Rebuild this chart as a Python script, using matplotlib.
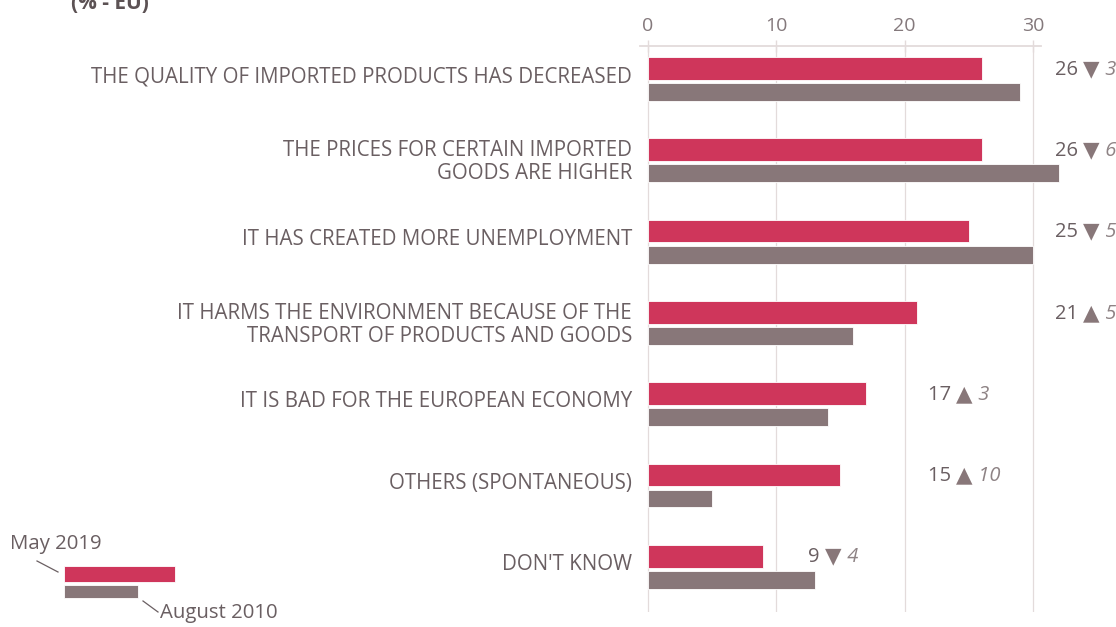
import matplotlib.pyplot as plt
from matplotlib.patches import Rectangle
from matplotlib.lines import Line2D

# Reasons given, EU average (%), May 2019 vs August 2010
categorias = [
    "THE QUALITY OF IMPORTED PRODUCTS HAS DECREASED",
    "THE PRICES FOR CERTAIN IMPORTED\nGOODS ARE HIGHER",
    "IT HAS CREATED MORE UNEMPLOYMENT",
    "IT HARMS THE ENVIRONMENT BECAUSE OF THE\nTRANSPORT OF PRODUCTS AND GOODS",
    "IT IS BAD FOR THE EUROPEAN ECONOMY",
    "OTHERS (SPONTANEOUS)",
    "DON'T KNOW",
]
maio_2019 = [26, 26, 25, 21, 17, 15, 9]
agosto_2010 = [29, 32, 30, 16, 14, 5, 13]
variacao = [-3, -6, -5, 5, 3, 10, -4]
# x position (data units) of each value label
pos_rotulo = [31.7, 31.7, 31.7, 31.7, 21.8, 21.8, 12.5]

VERMELHO = "#CF365B"
CINZA = "#887779"
TEXTO = "#6A5F62"
GRADE = "#E3DBDB"

plt.rcParams["font.family"] = ["Open Sans", "DejaVu Sans"]

W, H = 1116, 627
fig = plt.figure(figsize=(W / 100, H / 100), dpi=100)

escala = 12.83  # px per unit
esq_px, topo_px, base_px = 640, 46, 612
x0 = -(648 - esq_px) / escala
x1 = x0 + (W - esq_px) / escala
passo = 81.3
y_topo = (topo_px - 80.25) / passo
y_base = (base_px - 80.25) / passo

ax = fig.add_axes([esq_px / W, 1 - base_px / H, (W - esq_px) / W, (base_px - topo_px) / H])
ax.set_xlim(x0, x1)
ax.set_ylim(y_base, y_topo)

for t in [0, 10, 20, 30]:
    ax.axvline(t, color=GRADE, lw=0.9, zorder=0)

n = len(categorias)
ys = list(range(n))
ax.barh([y - 0.145 for y in ys], maio_2019, height=0.28, color=VERMELHO,
        edgecolor="white", linewidth=0.6, zorder=2)
ax.barh([y + 0.145 for y in ys], agosto_2010, height=0.22, color=CINZA,
        edgecolor="white", linewidth=0.6, zorder=2)

for i, rotulo in enumerate(categorias):
    dy = 0.01 if "\n" in rotulo else -0.045
    ax.text(-1.25, i + dy, rotulo, ha="right", va="center", fontsize=14.8,
            color=TEXTO, linespacing=1.14)

for i in range(n):
    yv = i - 0.13
    t1 = ax.text(pos_rotulo[i], yv, f"{maio_2019[i]} ", ha="left", va="center",
                 fontsize=14.5, color=TEXTO)
    seta = "\u25BC" if variacao[i] < 0 else "\u25B2"
    ax.annotate(seta, xy=(1, 0.5), xycoords=t1, xytext=(0, 0.5),
                textcoords="offset points", ha="left", va="center",
                fontsize=15.5, color=CINZA, family=["DejaVu Sans"])
    ax.annotate(f" {abs(variacao[i])}", xy=(1, 0), xycoords=t1,
                xytext=(12, 0), textcoords="offset points",
                ha="left", va="bottom", fontsize=14.5, color="#8E8385",
                style="italic")

ax.xaxis.tick_top()
ax.set_xticks([0, 10, 20, 30])
ax.tick_params(axis="x", direction="inout", length=8, width=1, color=GRADE,
               labelsize=14, labelcolor="#84797C", pad=4)
ax.set_yticks([])
for lado in ["left", "right", "bottom"]:
    ax.spines[lado].set_visible(False)
ax.spines["top"].set_color(GRADE)
ax.spines["top"].set_linewidth(1.3)
ax.spines["top"].set_bounds(x0, 30.6)

# title, partly above the frame
fig.text(71 / W, 1 - 9 / H, "(% - EU)", ha="left", va="baseline",
         fontsize=15, fontweight="bold", color="#5C5254")

# legend key
def px(x, y):
    return (x / W, 1 - y / H)

fig.add_artist(Rectangle(px(64, 582), 111 / W, 16 / H, transform=fig.transFigure,
                         facecolor=VERMELHO, edgecolor="white", lw=0.6))
fig.add_artist(Rectangle(px(64, 598), 74 / W, 13 / H, transform=fig.transFigure,
                         facecolor=CINZA, edgecolor="white", lw=0.6))
fig.add_artist(Line2D([37 / W, 58 / W], [1 - 561 / H, 1 - 572 / H],
                      transform=fig.transFigure, color="#6A5F62", lw=0.9))
fig.add_artist(Line2D([143 / W, 158 / W], [1 - 601 / H, 1 - 612 / H],
                      transform=fig.transFigure, color="#6A5F62", lw=0.9))
fig.text(10 / W, 1 - 544 / H, "May 2019", ha="left", va="center",
         fontsize=14.7, color=TEXTO)
fig.text(160 / W, 1 - 613 / H, "August 2010", ha="left", va="center",
         fontsize=14.7, color=TEXTO)

fig.savefig("out.png", dpi=100)
